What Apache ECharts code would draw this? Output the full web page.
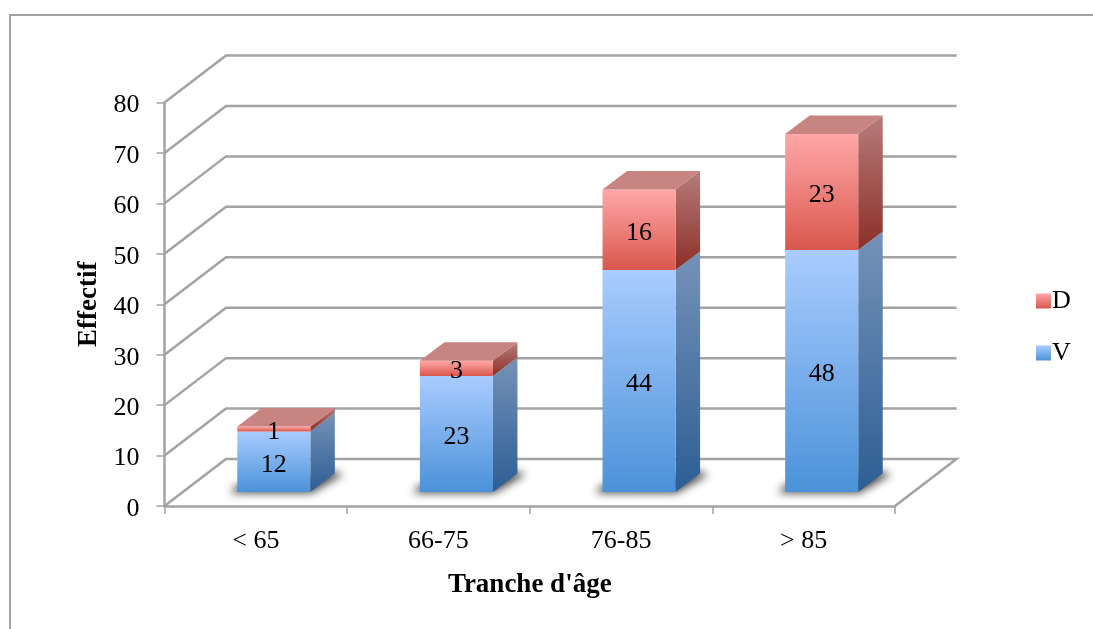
<!DOCTYPE html>
<html><head><meta charset="utf-8">
<style>html,body{margin:0;padding:0;background:#fff}#c{width:1093px;height:629px}</style>
<script src="https://cdn.jsdelivr.net/npm/echarts@6/dist/echarts.min.js"></script>
</head><body><div id="c"></div>
<script>
const categories = ['< 65', '66-75', '76-85', '> 85'];
const seriesV = [12, 23, 44, 48];
const seriesD = [1, 3, 16, 23];
const yTicks = [0, 10, 20, 30, 40, 50, 60, 70, 80];
const FONT = '"Liberation Serif", serif';
const FS = 26;
const FST = 27;
const GRID = '#a3a3a3';
const grad = (a, b) => new echarts.graphic.LinearGradient(0, 0, 0, 1, [{offset: 0, color: a}, {offset: 1, color: b}]);
const WALL = {dx: 61.5, dy: -47};
const BAR = {ox: 18, oy: -14, dx: 24.5, dy: -18.5, w: 0.4};
const OFF = 3000;

const chart = echarts.init(document.getElementById('c'), null, {renderer: 'canvas', devicePixelRatio: 1});

function wallItem(params, api) {
  const v = api.value(0);
  const size = api.size([1, 0])[0];
  const p0 = api.coord([0, v]);
  const p1 = api.coord([categories.length - 1, v]);
  const xl = p0[0] - size / 2, xr = p1[0] + size / 2, y = p0[1];
  const pts = [[xl, y], [xl + WALL.dx, y + WALL.dy], [xr + WALL.dx, y + WALL.dy]];
  if (v === 0) pts.push([xr, y]);
  return {type: 'polyline', shape: {points: pts},
    style: {stroke: GRID, lineWidth: 2.5, fill: null}, silent: true};
}

function barItem(palette, withTop) {
  return function (params, api) {
    const i = api.value(0);
    const a = api.coord([i, api.value(1)]);
    const b = api.coord([i, api.value(2)]);
    const w = api.size([1, 0])[0] * BAR.w;
    const x0 = a[0] + BAR.ox - w / 2, x1 = x0 + w;
    const yb = a[1] + BAR.oy, yt = b[1] + BAR.oy;
    const ch = [];
    if (palette.shadow) {
      const pts = [[x0 - 7, yb + 1], [x1 + 1, yb + 1], [x1 + BAR.dx + 8, yb + BAR.dy + 1], [x1 + BAR.dx, yb + BAR.dy - 2], [x0, yb - 7]];
      ch.push({type: 'polygon', silent: true,
        shape: {points: pts.map(p => [p[0] - OFF, p[1]])},
        style: {fill: '#000', shadowBlur: 8, shadowOffsetX: OFF, shadowColor: 'rgba(40,40,40,0.85)'}});
    }
    ch.push({type: 'polygon', silent: true,
      shape: {points: [[x1, yb], [x1 + BAR.dx, yb + BAR.dy], [x1 + BAR.dx, yt + BAR.dy], [x1, yt]]},
      style: {fill: grad(palette.side[0], palette.side[1])}});
    ch.push({type: 'rect', silent: true, shape: {x: x0, y: yt, width: w, height: yb - yt},
      style: {fill: grad(palette.front[0], palette.front[1])}});
    if (withTop) {
      ch.push({type: 'polygon', silent: true,
        shape: {points: [[x0, yt], [x1, yt], [x1 + BAR.dx, yt + BAR.dy], [x0 + BAR.dx, yt + BAR.dy]]},
        style: {fill: palette.top}});
    }
    ch.push({type: 'text', silent: true, z2: 10,
      style: {x: (x0 + x1) / 2, y: (yb + yt) / 2 + 3, text: String(api.value(2) - api.value(1)),
        align: 'center', verticalAlign: 'middle', font: FS + 'px ' + FONT, fill: '#000'}});
    return {type: 'group', children: ch};
  };
}

const blue = {front: ['#a9ccff', '#4b92d8'], side: ['#7592b8', '#2d5e95'], shadow: true};
const red = {front: ['#ffa8a8', '#d9574c'], side: ['#b67c7b', '#8c2f27'], top: '#c88481'};

chart.setOption({
  animation: false,
  backgroundColor: '#fff',
  textStyle: {fontFamily: FONT},
  grid: {left: 164.5, right: 198, top: 102.5, bottom: 123},
  legend: {
    orient: 'vertical', left: 1031, top: 283, itemWidth: 15, itemHeight: 15, itemGap: 26, icon: 'rect',
    data: ['D', 'V'], selectedMode: false,
    textStyle: {fontFamily: FONT, fontSize: FS, color: '#000', padding: [0, 0, 0, -4]}
  },
  graphic: [{type: 'polyline', silent: true,
    shape: {points: [[10, 629], [10, 15], [1093, 15]]},
    style: {stroke: '#a3a3a3', lineWidth: 2, fill: null}}],
  xAxis: {
    type: 'category', data: categories, boundaryGap: true,
    axisLine: {lineStyle: {color: GRID, width: 2.5}},
    axisTick: {show: true, alignWithLabel: false, length: 8, lineStyle: {color: GRID, width: 1.5}},
    axisLabel: {color: '#000', fontSize: FS, fontFamily: FONT, margin: 22},
    name: "Tranche d'âge", nameLocation: 'middle', nameGap: 66,
    nameTextStyle: {color: '#000', fontSize: FST, fontWeight: 'bold', fontFamily: FONT}
  },
  yAxis: {
    type: 'value', min: 0, max: 80, interval: 10,
    axisLine: {show: true, lineStyle: {color: GRID, width: 2.5}},
    axisTick: {show: true, length: 8, lineStyle: {color: GRID, width: 1.5}},
    axisLabel: {color: '#000', margin: 25, formatter: '{a|{value}}',
      rich: {a: {color: '#000', fontSize: FS, fontFamily: FONT, padding: [6, 0, 0, 0]}}},
    splitLine: {show: false},
    name: 'Effectif', nameLocation: 'middle', nameGap: 62,
    nameTextStyle: {color: '#000', fontSize: FST, fontWeight: 'bold', fontFamily: FONT}
  },
  series: [
    {type: 'custom', name: 'walls', coordinateSystem: 'cartesian2d', clip: false, z: 1,
      data: yTicks.map(v => [v]), encode: {y: 0}, renderItem: wallItem, silent: true},
    {type: 'custom', name: 'V', clip: false, z: 2,
      itemStyle: {color: grad(blue.front[0], blue.front[1])},
      data: categories.map((c, i) => [i, 0, seriesV[i]]),
      encode: {x: 0, y: [1, 2]}, renderItem: barItem(blue, false)},
    {type: 'custom', name: 'D', clip: false, z: 3,
      itemStyle: {color: grad(red.front[0], red.front[1])},
      data: categories.map((c, i) => [i, seriesV[i], seriesV[i] + seriesD[i]]),
      encode: {x: 0, y: [1, 2]}, renderItem: barItem(red, true)}
  ]
});
</script></body></html>
